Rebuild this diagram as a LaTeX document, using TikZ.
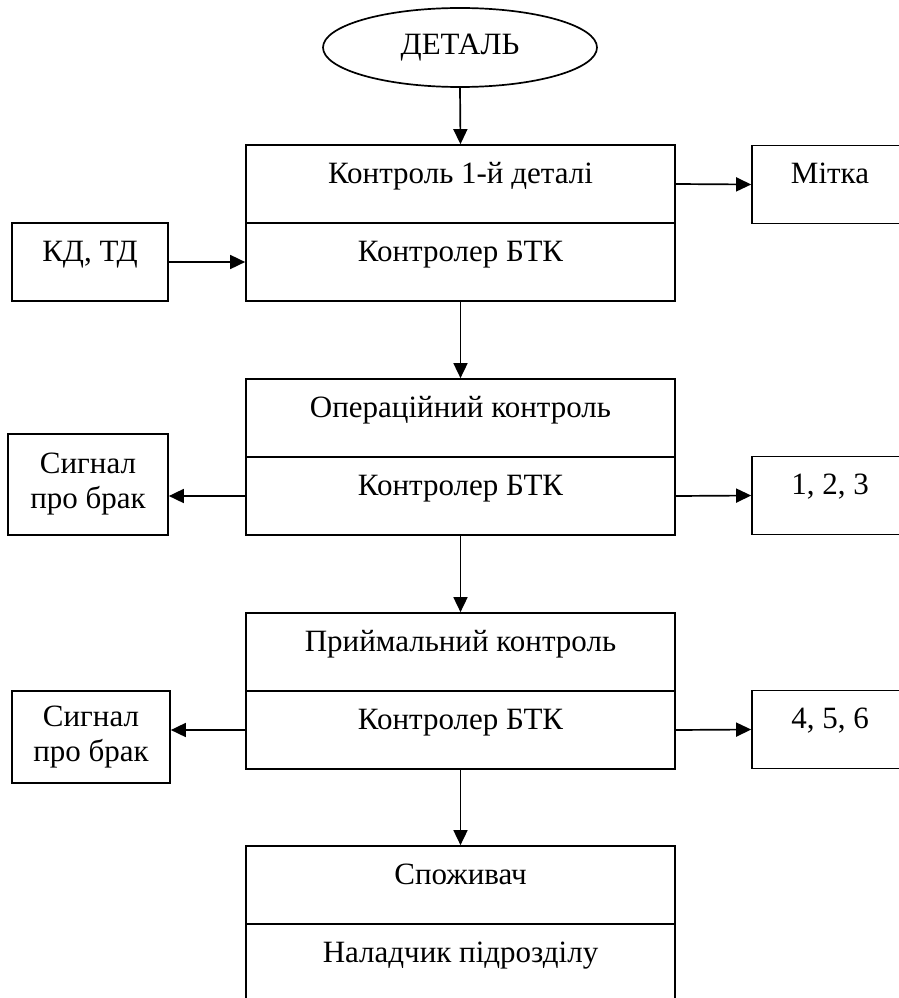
\documentclass[tikz,border=0pt]{standalone}
\usepackage{fontspec}
\setmainfont{Liberation Serif}
\usetikzlibrary{shapes.geometric,arrows.meta}
\begin{document}
\begin{tikzpicture}[x=1pt,y=-1pt,
  every node/.style={font=\fontsize{31}{35}\selectfont},
  line width=1.7pt,
  part/.style={draw, rectangle, inner sep=0pt, minimum width=429pt, text height=38pt, text depth=40pt},
  sidebox/.style={draw, rectangle, inner sep=0pt, minimum width=156pt, text height=38pt, text depth=40pt},
  sigbox/.style={draw, rectangle, inner sep=0pt, align=center},
  arr/.style={-{Triangle[length=15pt,width=14pt]}}]
\useasboundingbox (0,0) rectangle (899,998);
\clip (0,0) rectangle (899,998);
% start
\node[draw, ellipse, inner sep=0pt, minimum width=274pt, minimum height=79pt] (det) at (460,47.5) {ДЕТАЛЬ};
% main boxes
\node[part] (b1t) at (460.5,184) {Контроль 1-й деталі};
\node[part] (b1b) at (460.5,262) {Контролер БТК};
\node[part] (b2t) at (460.5,418) {Операційний контроль};
\node[part] (b2b) at (460.5,496) {Контролер БТК};
\node[part] (b3t) at (460.5,652) {Приймальний контроль};
\node[part] (b3b) at (460.5,730) {Контролер БТК};
\node[part] (b4t) at (460.5,885) {Споживач};
\node[part] (b4b) at (460.5,963) {Наладчик підрозділу};
% side boxes
\node[sidebox] (mit) at (830,184.5) {Мітка};
\node[sidebox] (kd) at (90,262) {КД, ТД};
\node[sidebox] (n1) at (830,495.5) {1, 2, 3};
\node[sidebox] (n2) at (830,729.5) {4, 5, 6};
\node[sigbox, minimum width=160pt, minimum height=101pt] (s1) at (88,484.5) {Сигнал\\про брак};
\node[sigbox, minimum width=158pt, minimum height=92pt] (s2) at (91,737) {Сигнал\\про брак};
% connectors
\draw[arr] (det.south) -- (b1t.north);
\draw[arr] (b1b.south) -- (b2t.north);
\draw[arr] (b2b.south) -- (b3t.north);
\draw[arr] (b3b.south) -- (b4t.north);
\draw[arr] (b1t.east) -- (mit.west);
\draw[arr] (kd.east) -- (b1b.west);
\draw[arr] (b2b.west) -- (b2b.west -| s1.east);
\draw[arr] (b2b.east) -- (n1.west);
\draw[arr] (b3b.west) -- (b3b.west -| s2.east);
\draw[arr] (b3b.east) -- (n2.west);
\end{tikzpicture}
\end{document}
